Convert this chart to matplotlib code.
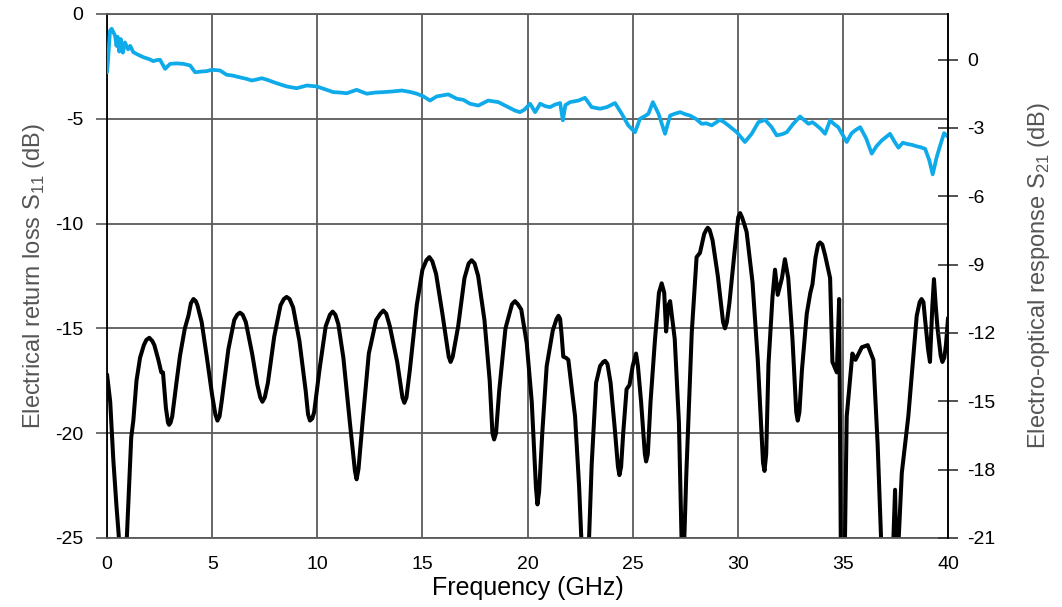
import matplotlib
matplotlib.use("Agg")
import matplotlib.pyplot as plt

plt.rcParams["font.family"] = ["Liberation Sans", "DejaVu Sans"]
plt.rcParams["mathtext.fontset"] = "custom"
plt.rcParams["mathtext.rm"] = "Liberation Sans"
plt.rcParams["axes.unicode_minus"] = False

# Electrical return loss S11 (left axis)
s11_freq = [
    0.00, 0.15, 0.30, 0.45, 0.55, 0.65, 0.80, 0.94, 1.05, 1.15, 1.25, 1.40, 1.57, 1.75,
    1.87, 2.01, 2.15, 2.25, 2.44, 2.58, 2.66, 2.80, 2.90, 2.95, 3.02, 3.10, 3.30, 3.47,
    3.70, 3.87, 3.99, 4.11, 4.22, 4.30, 4.50, 4.75, 5.00, 5.15, 5.25, 5.35, 5.45, 5.77,
    6.05, 6.19, 6.32, 6.45, 6.60, 6.90, 7.15, 7.29, 7.39, 7.50, 7.65, 7.95, 8.25, 8.41,
    8.54, 8.68, 8.85, 9.15, 9.45, 9.56, 9.65, 9.76, 9.85, 10.10, 10.40, 10.60, 10.73,
    10.86, 11.00, 11.24, 11.55, 11.79, 11.87, 11.96, 12.15, 12.45, 12.80, 13.00, 13.14,
    13.28, 13.45, 13.80, 14.05, 14.14, 14.24, 14.40, 14.73, 15.00, 15.19, 15.33, 15.47,
    15.65, 15.95, 16.25, 16.34, 16.44, 16.70, 17.00, 17.20, 17.34, 17.48, 17.65, 17.95,
    18.20, 18.33, 18.41, 18.50, 18.65, 18.95, 19.26, 19.40, 19.54, 19.70, 19.96, 20.20,
    20.40, 20.47, 20.55, 20.70, 20.91, 21.20, 21.38, 21.47, 21.55, 21.62, 21.70, 21.82,
    21.94, 22.26, 22.45, 22.60, 22.75, 22.89, 23.05, 23.26, 23.45, 23.60, 23.69, 23.80,
    23.95, 24.15, 24.30, 24.37, 24.45, 24.55, 24.71, 24.85, 25.00, 25.16, 25.25, 25.40,
    25.58, 25.64, 25.72, 25.85, 26.06, 26.25, 26.38, 26.50, 26.59, 26.70, 26.78, 27.00,
    27.20, 27.38, 27.55, 27.81, 28.04, 28.20, 28.40, 28.50, 28.57, 28.66, 28.80, 29.05,
    29.30, 29.39, 29.48, 29.60, 29.85, 30.02, 30.11, 30.20, 30.30, 30.42, 30.70, 30.95,
    31.20, 31.27, 31.35, 31.46, 31.65, 31.77, 31.90, 32.10, 32.24, 32.40, 32.60, 32.78,
    32.85, 32.93, 33.05, 33.28, 33.45, 33.55, 33.70, 33.82, 33.91, 34.02, 34.15, 34.39,
    34.50, 34.71, 34.82, 34.91, 35.07, 35.18, 35.45, 35.60, 35.90, 36.18, 36.45, 36.65,
    36.85, 37.05, 37.30, 37.48, 37.56, 37.80, 38.11, 38.51, 38.65, 38.74, 38.83, 38.90,
    39.05, 39.14, 39.25, 39.33, 39.42, 39.50, 39.65, 39.73, 39.82, 39.90, 40.00,
]
s11_db = [
    -17.2, -18.5, -21.3, -23.5, -24.8, -26.5, -26.5, -25.0, -22.5, -20.2, -19.4, -17.5, -16.4, -15.8,
    -15.55, -15.45, -15.6, -15.8, -16.5, -17.1, -17.1, -18.8, -19.5, -19.6, -19.5, -19.2, -17.6, -16.3,
    -15.0, -14.4, -13.8, -13.6, -13.7, -13.9, -14.7, -16.4, -18.2, -19.1, -19.4, -19.2, -18.5, -16.0,
    -14.6, -14.35, -14.25, -14.35, -14.7, -16.2, -17.7, -18.3, -18.5, -18.3, -17.6, -15.4, -13.9, -13.6,
    -13.5, -13.6, -14.0, -15.6, -18.0, -19.1, -19.4, -19.3, -19.0, -17.0, -14.9, -14.35, -14.2,
    -14.35, -14.8, -16.4, -19.5, -21.8, -22.2, -21.7, -19.5, -16.2, -14.6, -14.3, -14.15,
    -14.3, -14.9, -16.6, -18.3, -18.55, -18.3, -17.0, -13.9, -12.2, -11.75, -11.6, -11.8,
    -12.4, -14.3, -16.35, -16.6, -16.35, -14.9, -12.6, -11.9, -11.75, -11.9, -12.5, -14.6,
    -17.5, -20.0, -20.3, -20.0, -18.0, -15.0, -13.85, -13.7, -13.85, -14.1, -15.7, -18.5,
    -22.6, -23.4, -22.8, -20.0, -16.8, -15.1, -14.55, -14.4, -14.55, -15.3, -16.35, -16.4,
    -16.5, -19.2, -22.5, -26.0, -27.0, -26.0, -21.5, -17.6, -16.8, -16.6, -16.55, -16.7,
    -17.6, -19.8, -21.6, -22.0, -21.6, -20.0, -17.9, -17.7, -16.8, -16.2, -16.8, -18.5,
    -21.0, -21.35, -21.0, -18.5, -15.55, -13.3, -12.85, -13.3, -15.15, -13.9, -13.7, -15.5,
    -19.5, -27.5, -22.0, -15.2, -11.6, -11.4, -10.5, -10.3, -10.2, -10.3, -10.8, -12.5,
    -14.7, -15.0, -14.7, -13.8, -11.3, -9.7, -9.5, -9.7, -10.0, -10.4, -12.8, -16.5,
    -21.4, -21.8, -21.0, -16.7, -13.5, -12.2, -13.4, -12.6, -11.7, -12.6, -15.5, -19.0,
    -19.4, -19.0, -17.0, -14.3, -13.3, -12.9, -11.6, -11.0, -10.9, -11.0, -11.5, -12.6,
    -16.6, -17.1, -13.6, -27.0, -27.0, -19.2, -16.2, -16.5, -15.9, -15.8, -16.5, -20.5,
    -26.0, -28.0, -28.0, -22.7, -27.0, -21.9, -19.2, -14.4, -13.75, -13.6, -13.75, -14.5,
    -16.0, -16.6, -14.0, -12.65, -14.0, -15.0, -16.3, -16.6, -16.4, -15.8, -14.5,
]

# Electro-optical response S21 (right axis)
s21_freq = [
    0.00, 0.05, 0.14, 0.22, 0.30, 0.38, 0.45, 0.50, 0.58, 0.65, 0.75, 0.85, 1.00, 1.10,
    1.25, 1.50, 1.73, 2.00, 2.20, 2.35, 2.52, 2.76, 3.00, 3.30, 3.63, 3.95, 4.19, 4.45,
    4.74, 4.98, 5.37, 5.69, 5.95, 6.17, 6.40, 6.64, 6.88, 7.10, 7.36, 7.65, 7.91, 8.20,
    8.54, 9.02, 9.50, 9.97, 10.35, 10.76, 11.10, 11.40, 11.87, 12.35, 12.75, 13.14, 13.60,
    14.02, 14.40, 14.73, 15.05, 15.36, 15.68, 16.23, 16.63, 16.95, 17.26, 17.66, 18.13,
    18.61, 19.00, 19.40, 19.64, 19.85, 20.12, 20.36, 20.60, 20.85, 21.07, 21.30, 21.55,
    21.68, 21.80, 22.02, 22.42, 22.73, 23.05, 23.45, 23.77, 24.16, 24.48, 24.79, 25.11,
    25.35, 25.55, 25.75, 25.96, 26.23, 26.54, 26.78, 27.00, 27.26, 27.50, 27.73, 28.00,
    28.28, 28.50, 28.76, 29.15, 29.35, 29.55, 29.95, 30.34, 30.66, 30.98, 31.30, 31.61,
    31.85, 32.10, 32.33, 32.64, 32.96, 33.15, 33.36, 33.55, 33.75, 33.95, 34.15, 34.39,
    34.60, 34.78, 35.18, 35.40, 35.58, 35.82, 36.10, 36.37, 36.60, 36.85, 37.05, 37.24,
    37.45, 37.64, 37.85, 38.03, 38.30, 38.51, 38.70, 38.91, 39.11, 39.27, 39.46, 39.65,
    39.81, 40.00,
]
s21_db = [
    -0.56, 0.0, 1.27, 1.35, 1.20, 1.05, 0.60, 1.00, 0.35, 0.90, 0.30, 0.75, 0.45, 0.60,
    0.32, 0.20, 0.10, 0.02, -0.07, -0.03, -0.01, -0.41, -0.19, -0.17, -0.19, -0.26, -0.56, -0.53,
    -0.51, -0.45, -0.48, -0.67, -0.70, -0.75, -0.80, -0.85, -0.92, -0.88, -0.82, -0.90, -0.99, -1.08,
    -1.18, -1.26, -1.14, -1.18, -1.30, -1.43, -1.45, -1.48, -1.33, -1.50, -1.45, -1.43, -1.40,
    -1.36, -1.42, -1.50, -1.62, -1.80, -1.62, -1.53, -1.72, -1.77, -1.94, -2.02, -1.80,
    -1.87, -2.05, -2.24, -2.31, -2.20, -1.94, -2.31, -1.94, -2.05, -2.09, -1.98, -1.91,
    -2.67, -2.00, -1.87, -1.80, -1.68, -2.09, -2.16, -2.09, -1.91, -2.38, -2.89, -3.19,
    -2.60, -2.50, -2.38, -1.87, -2.38, -3.26, -2.46, -2.38, -2.31, -2.40, -2.46, -2.60,
    -2.82, -2.80, -2.89, -2.65, -2.75, -2.89, -3.19, -3.62, -3.26, -2.75, -2.65, -2.97,
    -3.33, -3.28, -3.19, -2.82, -2.50, -2.65, -2.82, -2.75, -2.89, -3.05, -3.26, -2.67,
    -2.85, -2.97, -3.62, -3.25, -3.11, -2.97, -3.45, -4.13, -3.80, -3.55, -3.40, -3.26,
    -3.60, -3.87, -3.65, -3.70, -3.75, -3.81, -3.85, -3.92, -4.43, -5.04, -4.28, -3.70,
    -3.23, -3.40,
]

x_ticks = [0, 5, 10, 15, 20, 25, 30, 35, 40]
left_ticks = [0, -5, -10, -15, -20, -25]
right_ticks = [0, -3, -6, -9, -12, -15, -18, -21]

fig = plt.figure(figsize=(10.62, 6.07), dpi=100)
ax = fig.add_axes([0.1008, 0.1137, 0.7919, 0.8633])
ax2 = ax.twinx()

grid_col = "#5a5a5a"
ax.set_axisbelow(True)
ax.grid(True, color=grid_col, linewidth=1.3)
ax.plot(s11_freq, s11_db, color="black", linewidth=2.9,
        solid_joinstyle="round", solid_capstyle="round")
ax2.plot(s21_freq, s21_db, color="#0eaaea", linewidth=2.7,
         solid_joinstyle="round", solid_capstyle="round")

ax.set_xlim(0, 40)
ax.set_ylim(-25, 0)
ax2.set_ylim(-21, 2)
ax.set_xticks(x_ticks)
ax.set_yticks(left_ticks)
ax2.set_yticks(right_ticks)
ax.set_xticklabels([str(t) for t in x_ticks])
ax.set_yticklabels([str(t) for t in left_ticks])
ax2.set_yticklabels([str(t) for t in right_ticks])

ax.tick_params(axis="x", length=0, pad=13, labelsize=14)
ax.tick_params(axis="y", direction="out", length=8, width=1.2, color=grid_col, pad=9, labelsize=14)
ax2.tick_params(axis="y", direction="inout", length=15, width=1.2, color="#333333", pad=6, labelsize=14)

for name, sp in ax.spines.items():
    sp.set_color(grid_col)
    sp.set_linewidth(1.3)
ax.spines["left"].set_color("black")
ax2.spines["right"].set_color("black")
ax2.spines["right"].set_linewidth(1.3)
for name in ["top", "bottom", "left"]:
    ax2.spines[name].set_visible(False)

ax.set_xlabel("Frequency (GHz)", fontsize=18, labelpad=2)
ax.set_ylabel("Electrical return loss S$_{\\mathregular{11}}$ (dB)", fontsize=17,
              color="#555555", labelpad=6)
ax2.set_ylabel("Electro-optical response S$_{\\mathregular{21}}$ (dB)", fontsize=17,
               color="#555555", labelpad=22)

fig.savefig("out.png", dpi=100)
